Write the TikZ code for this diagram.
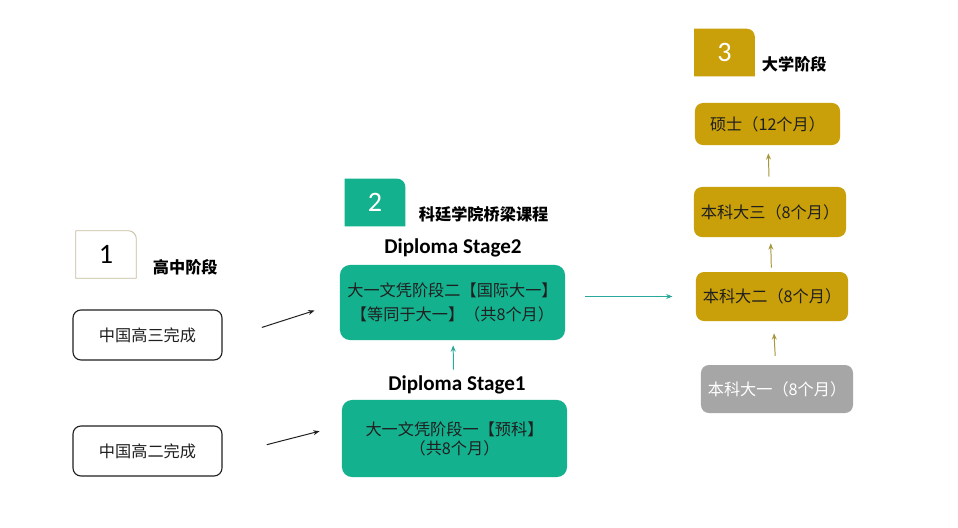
\documentclass[tikz,border=0pt]{standalone}
\usepackage{fontspec}
\setmainfont{Carlito}
\newfontfamily\cjk{Noto Sans CJK SC}
\usetikzlibrary{arrows.meta,positioning,calc,backgrounds}

\definecolor{tealbox}{HTML}{14B18F}
\definecolor{tealarr}{HTML}{2AA89A}
\definecolor{goldbox}{HTML}{C9A009}
\definecolor{goldarr}{HTML}{A8963A}
\definecolor{greybox}{HTML}{A6A6A6}
\definecolor{tabline}{HTML}{C6BE9E}
\definecolor{darktext}{HTML}{1F1F1F}

\begin{document}
\begin{tikzpicture}[
    x=0.025cm, y=-0.025cm,
    school/.style={draw=darktext, line width=0.8pt, rounded corners=0.2cm, minimum width=3.725cm, minimum height=1.25cm, align=center, font=\cjk\fontsize{11.5}{14}\selectfont, text=darktext},
    bridge/.style={fill=tealbox, rounded corners=0.25cm, minimum width=5.625cm, minimum height=1.875cm, align=center, text=darktext},
    uni/.style={fill=goldbox, rounded corners=0.2cm, minimum width=3.8cm, minimum height=1.25cm, align=center, font=\cjk\fontsize{11.5}{14}\selectfont, text=darktext},
    tabnum/.style={minimum width=1.5cm, minimum height=1.175cm, inner sep=0pt, font=\fontsize{20}{24}\selectfont},
    title/.style={anchor=west, font=\cjk\bfseries\fontsize{11.5}{14}\selectfont, text=black},
    stage/.style={font=\bfseries\fontsize{15}{17}\selectfont, text=black},
    darr/.style={-{Stealth[length=4.5pt,width=3.5pt]}, line width=0.7pt, draw=darktext},
    tarr/.style={-{Stealth[length=4.5pt,width=3.5pt]}, line width=0.7pt, draw=tealarr},
    garr/.style={-{Stealth[length=4.5pt,width=3.5pt]}, line width=0.7pt, draw=goldarr}
]
\useasboundingbox (0,0) rectangle (958,527);

% stage 1
\node[tabnum] (t1) at (106,254.5) {1};
\node[title] (l1) at (148,267) {高中阶段};
\node[school] (gao3) at (147.5,335) {中国高三完成};
\node[school] (gao2) at (147.5,451) {中国高二完成};

% stage 2
\node[tabnum, text=white] (t2) at (375,202.5) {2};
\node[title] (l2) at (414,214) {科廷学院桥梁课程};
\node[stage] (d2) at (453,248) {Diploma Stage2};
\node[bridge, font=\cjk\fontsize{11.5}{16.5}\selectfont] (s2) at (452.5,302.5) {大一文凭阶段二【国际大一】\\【等同于大一】（共8个月）};
\node[stage] (d1) at (457,385) {Diploma Stage1};
\node[bridge, minimum height=1.925cm, font=\cjk\fontsize{11.5}{13.5}\selectfont] (s1) at (454.5,438.5) {大一文凭阶段一【预科】\\（共8个月）};

% stage 3
\node[tabnum, text=white] (t3) at (724.5,52.5) {3};
\node[title] (l3) at (757,64) {大学阶段};
\node[uni, minimum width=3.625cm, minimum height=1.05cm] (ms) at (767.5,124) {硕士（12个月）};
\node[uni] (y3) at (770,212) {本科大三（8个月）};
\node[uni, minimum height=1.225cm] (y2) at (772,296.5) {本科大二（8个月）};
\node[uni, fill=greybox, text=white, minimum height=1.2cm] (y1) at (777,389) {本科大一（8个月）};

% number tabs, one round corner
\begin{scope}[on background layer]
\fill[white] (0,0) rectangle (958,527);
\draw[draw=tabline, fill=white, line width=0.6pt] (t1.south west) -- (t1.north west) -- ([xshift=-0.2cm]t1.north east) arc[start angle=90, end angle=0, radius=0.2cm] -- (t1.south east) -- cycle;
\fill[tealbox] (t2.south west) -- (t2.north west) -- ([xshift=-0.2cm]t2.north east) arc[start angle=90, end angle=0, radius=0.2cm] -- (t2.south east) -- cycle;
\fill[goldbox] (t3.south west) -- (t3.north west) -- ([xshift=-0.2cm]t3.north east) arc[start angle=90, end angle=0, radius=0.2cm] -- (t3.south east) -- cycle;
\end{scope}

\draw[darr, shorten <=1.03cm, shorten >=0.66cm] ($(gao3.east)+(0,5)$) -- (s2.west);
\draw[darr, shorten <=1.14cm, shorten >=0.57cm] ($(gao2.east)+(0,5)$) -- ($(s1.west)+(0,-13)$);
\draw[tarr, shorten <=0.75cm, shorten >=0.125cm] (s1) -- (s2);
\draw[tarr, shorten <=0.5cm, shorten >=0.58cm] (s2.east |- y2.west) -- (y2.west);
\draw[garr, shorten <=0.22cm, shorten >=0.3cm] (y1) -- (y2);
\draw[garr, shorten <=0.1cm, shorten >=0.15cm] (y2) -- (y3);
\draw[garr, shorten <=0.25cm, shorten >=0.2cm] (y3) -- (ms);
\end{tikzpicture}
\end{document}
